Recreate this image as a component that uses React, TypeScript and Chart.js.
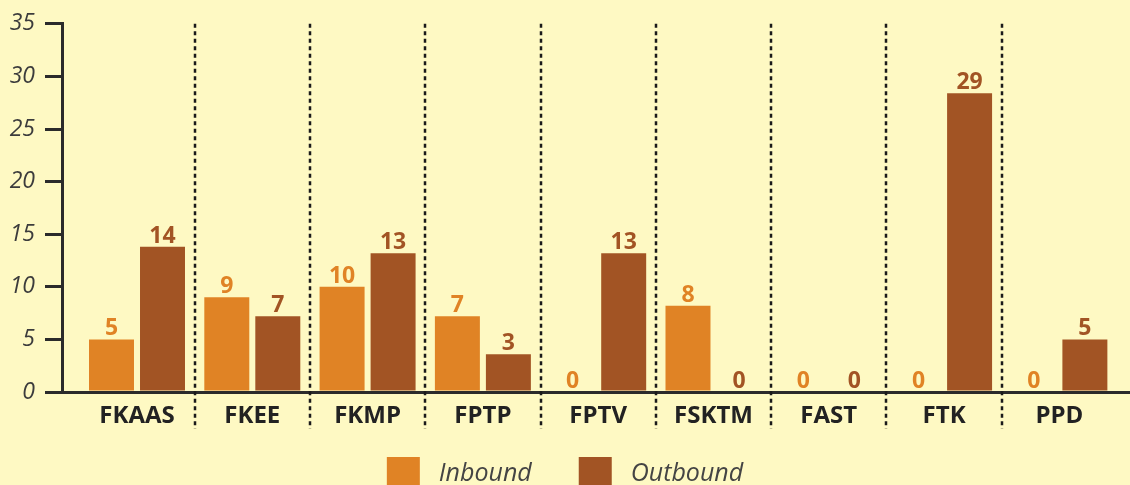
import React, { useEffect, useRef } from "react";
import { Chart, registerables } from "chart.js";

Chart.register(...registerables);

const categories = ["FKAAS", "FKEE", "FKMP", "FPTP", "FPTV", "FSKTM", "FAST", "FTK", "PPD"];
const inboundValues = [5, 9, 10, 7.2, 0, 8.2, 0, 0, 0];
const outboundValues = [13.8, 7.2, 13.2, 3.6, 13.2, 0, 0, 28.4, 5];
const inboundLabels = ["5", "9", "10", "7", "0", "8", "0", "0", "0"];
const outboundLabels = ["14", "7", "13", "3", "13", "0", "0", "29", "5"];
const seriesNames = ["Inbound", "Outbound"];
const yMin = 0;
const yMax = 35;
const yStep = 5;

const IN_COLOR = "#E08325";
const OUT_COLOR = "#A25424";
const BG = "#FEF9C3";
const FONT = '"Open Sans", sans-serif';

export default function App() {
  const ref = useRef<HTMLCanvasElement>(null);

  useEffect(() => {
    const canvas = ref.current;
    if (!canvas) return;

    const separators = {
      id: "separators",
      beforeDatasetsDraw(chart: any) {
        const x = chart.scales.x;
        const c = chart.ctx;
        c.save();
        c.strokeStyle = "#1a1a1a";
        c.lineWidth = 2.5;
        c.setLineDash([4, 3.5]);
        for (let i = 0; i < categories.length - 1; i++) {
          const px = Math.round(x.getPixelForValue(i + 0.5));
          c.beginPath();
          c.moveTo(px, chart.chartArea.top);
          c.lineTo(px, chart.chartArea.bottom + 37);
          c.stroke();
        }
        c.restore();
      },
    };

    const valueLabels = {
      id: "valueLabels",
      afterDatasetsDraw(chart: any) {
        const c = chart.ctx;
        const texts = [inboundLabels, outboundLabels];
        c.save();
        c.font = `bold 23px ${FONT}`;
        c.textAlign = "center";
        c.textBaseline = "alphabetic";
        chart.data.datasets.forEach((ds: any, di: number) => {
          const meta = chart.getDatasetMeta(di);
          c.fillStyle = ds.backgroundColor;
          meta.data.forEach((el: any, i: number) => {
            c.fillText(texts[di][i], el.x, el.y - 4);
          });
        });
        c.restore();
      },
    };

    const chart = new Chart(canvas, {
      type: "bar",
      data: {
        datasets: [
          {
            label: seriesNames[0],
            data: categories.map((_, i) => ({ x: i, y: inboundValues[i] })),
            backgroundColor: IN_COLOR,
            categoryPercentage: 0.8847,
            barPercentage: 0.882,
          },
          {
            label: seriesNames[1],
            data: categories.map((_, i) => ({ x: i, y: outboundValues[i] })),
            backgroundColor: OUT_COLOR,
            categoryPercentage: 0.8847,
            barPercentage: 0.882,
          },
        ],
      } as any,
      options: {
        animation: false,
        responsive: false,
        maintainAspectRatio: false,
        layout: { padding: { top: 19, left: 0, right: 0, bottom: 0 } },
        scales: {
          x: {
            type: "linear",
            offset: false,
            min: -0.6505,
            max: 8.6125,
            z: 1,
            grid: { display: false, drawTicks: false },
            border: { display: true, color: "#2b2b2b", width: 3 },
            ticks: {
              autoSkip: false,
              maxRotation: 0,
              padding: 10,
              color: "#222",
              font: { family: FONT, size: 24, weight: "bold" },
              callback: (v: any) => categories[v] ?? "",
            },
            afterBuildTicks: (s: any) => {
              s.ticks = categories.map((_, i) => ({ value: i }));
            },
            afterFit: (s: any) => {
              s.height = 44;
            },
          },
          y: {
            min: yMin,
            max: yMax,
            ticks: {
              stepSize: yStep,
              padding: 10,
              color: "#3c3c3c",
              font: { family: FONT, size: 23, style: "italic" },
            },
            grid: {
              drawOnChartArea: false,
              drawTicks: true,
              tickLength: 17,
              color: "#2b2b2b",
              lineWidth: 3,
            },
            border: { display: true, color: "#2b2b2b", width: 3 },
            afterFit: (s: any) => {
              s.width = 62;
            },
          },
        },
        plugins: {
          legend: {
            position: "bottom",
            labels: {
              boxWidth: 33,
              boxHeight: 33,
              padding: 21,
              color: "#444",
              font: { family: FONT, size: 25, style: "italic" },
              generateLabels: (chart: any) =>
                chart.data.datasets.map((ds: any, i: number) => ({
                  text: " " + ds.label + (i === 0 ? "    " : ""),
                  fillStyle: ds.backgroundColor,
                  strokeStyle: ds.backgroundColor,
                  lineWidth: 0,
                  fontColor: "#444",
                  hidden: false,
                  datasetIndex: i,
                })),
            },
          },
          tooltip: { enabled: false },
        },
      } as any,
      plugins: [separators, valueLabels],
    });

    return () => chart.destroy();
  }, []);

  return (
    <div
      style={{
        position: "fixed",
        left: 0,
        top: 0,
        width: 1130,
        height: 500,
        background: BG,
      }}
    >
      <canvas ref={ref} width={1130} height={500} style={{ display: "block" }} />
    </div>
  );
}
